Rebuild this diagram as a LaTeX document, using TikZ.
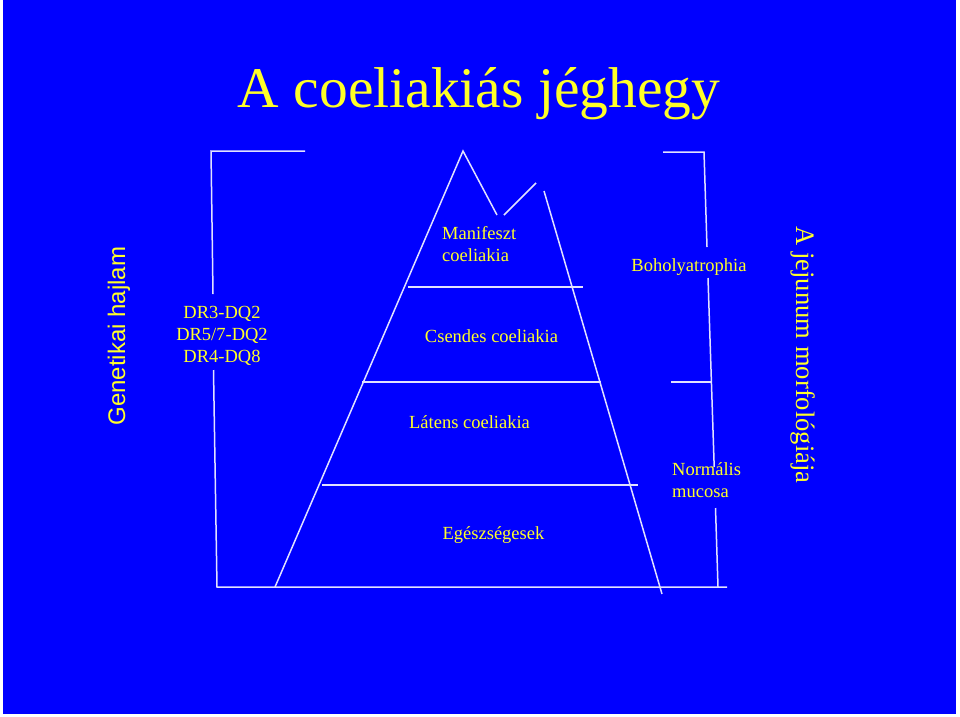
\documentclass[tikz,border=0pt]{standalone}
\usepackage{fontspec}
\setmainfont{Liberation Serif}
\newfontfamily\arialf{Liberation Sans}
\definecolor{bgblue}{RGB}{0,0,255}
\definecolor{txtyel}{RGB}{255,255,40}
\definecolor{lineC}{RGB}{225,225,255}
\begin{document}
\begin{tikzpicture}[x=1pt,y=-1pt,
  ln/.style={draw=lineC,line width=1.5pt},
  lbl/.style={text=txtyel,inner sep=0pt,font=\fontsize{18.5}{22}\selectfont},
  ttl/.style={text=txtyel,inner sep=0pt,font=\fontsize{57.5}{60}\selectfont}]
\useasboundingbox (0,0) rectangle (960,716);
\fill[white] (0,0) rectangle (960,716);
\fill[bgblue] (3,0) rectangle (956,714);

% title
\node[ttl,anchor=base] (title) at (479,107) {A coeliakiás jéghegy};

% side labels
\node[text=txtyel,inner sep=0pt,rotate=90,anchor=base,font=\arialf\fontsize{24}{26}\selectfont] (gen) at (125,336) {Genetikai hajlam};
\node[text=txtyel,inner sep=0pt,rotate=-90,anchor=base,font=\fontsize{26.6}{28}\selectfont] (jej) at (796,355) {A jejunum morfológiája};

% HLA labels
\node[lbl,anchor=base] (dr1) at (222,318) {DR3-DQ2};
\node[lbl,anchor=base] (dr2) at (222,340) {DR5/7-DQ2};
\node[lbl,anchor=base] (dr3) at (222,362) {DR4-DQ8};

% iceberg labels
\node[lbl,anchor=base west] (man1) at (442,239) {Manifeszt};
\node[lbl,anchor=base west] (man2) at (442,261) {coeliakia};
\node[lbl,anchor=base] (csen) at (491.5,342) {Csendes coeliakia};
\node[lbl,anchor=base] (lat) at (469.5,428) {Látens coeliakia};
\node[lbl,anchor=base] (egs) at (493.5,539) {Egészségesek};

% right labels
\node[lbl,anchor=base] (boh) at (689,271) {Boholyatrophia};
\node[lbl,anchor=base west] (norm1) at (672,475) {Normális};
\node[lbl,anchor=base west] (norm2) at (672,497) {mucosa};

% coordinates
\coordinate (lbTop) at (211,151);
\coordinate (lbTopEnd) at (305,151);
\coordinate (lbGapA) at (213,294);
\coordinate (lbGapB) at (213.5,370);
\coordinate (lbBot) at (217,587);
\coordinate (botEnd) at (727,587);

\coordinate (rbTopStart) at (663,152);
\coordinate (rbTop) at (704,152);
\coordinate (rbGapA) at (707,247);
\coordinate (rbGapB) at (708,278);
\coordinate (rbMid) at (711.4,382);
\coordinate (rbMidStart) at (671,382);
\coordinate (rbGapC) at (714.2,467);
\coordinate (rbGapD) at (715.5,508);
\coordinate (rbBot) at (718,587);

\coordinate (peak) at (463,151);
\coordinate (lbase) at (275,587);
\coordinate (notch1) at (497,215);
\coordinate (notch2) at (504,215);
\coordinate (peak2) at (536,183);
\coordinate (rtop) at (544,191);
\coordinate (rbase) at (662,594);
\coordinate (h1a) at (408,287);
\coordinate (h1b) at (583,287);
\coordinate (h2a) at (362,382);
\coordinate (h2b) at (601,382);
\coordinate (h3a) at (322,485);
\coordinate (h3b) at (638,485);

% left bracket
\draw[ln] (lbTopEnd) -- (lbTop) -- (lbGapA);
\draw[ln] (lbGapB) -- (lbBot) -- (botEnd);

% right bracket
\draw[ln] (rbTopStart) -- (rbTop) -- (rbGapA);
\draw[ln] (rbGapB) -- (rbGapC);
\draw[ln] (rbMidStart) -- (rbMid);
\draw[ln] (rbGapD) -- (rbBot);

% iceberg
\draw[ln] (lbase) -- (peak) -- (notch1);
\draw[ln] (notch2) -- (peak2);
\draw[ln] (rtop) -- (rbase);
\draw[ln] (h1a) -- (h1b);
\draw[ln] (h2a) -- (h2b);
\draw[ln] (h3a) -- (h3b);
\end{tikzpicture}
\end{document}
